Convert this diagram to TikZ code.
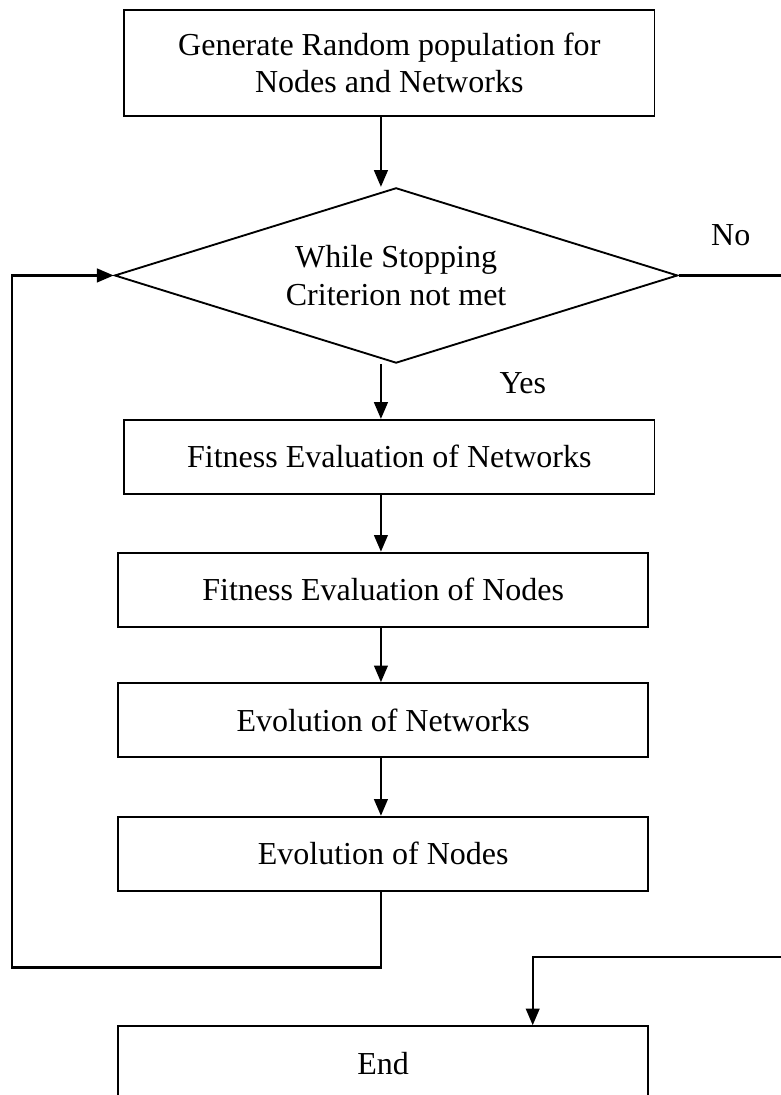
\documentclass[tikz,border=0pt]{standalone}
\usepackage{fontspec}
\setmainfont{Liberation Serif}
\usepackage{tikz}
\usetikzlibrary{positioning,calc,arrows.meta,shapes.geometric}

\begin{document}
\begin{tikzpicture}[
  block/.style={rectangle, draw, line width=0.7pt, minimum width=69.9mm, minimum height=9.75mm, inner sep=0pt, font=\fontsize{12pt}{13.8pt}\selectfont, align=center},
  decision/.style={diamond, draw, line width=0.7pt, aspect=3.2, minimum width=74.2mm, minimum height=23.1mm, inner sep=0pt, font=\fontsize{12pt}{14.5pt}\selectfont, align=center},
  tag/.style={inner sep=0pt, font=\fontsize{12pt}{13.8pt}\selectfont},
  arrow/.style={-{Triangle[length=2.2mm,width=1.8mm]}, line width=0.8pt},
  link/.style={line width=0.8pt}
]
\useasboundingbox (0,0) rectangle (102.9mm,-144.3mm);
\node[block, minimum height=14mm] (start) at (51.3mm,-8.3mm) {Generate Random population for\\Nodes and Networks};
\node[decision] (cond) at (52.2mm,-36.3mm) {While Stopping\\Criterion not met};
\node[block] (evalnet) at (51.3mm,-60.2mm) {Fitness Evaluation of Networks};
\node[block] (evalnode) at (50.5mm,-77.7mm) {Fitness Evaluation of Nodes};
\node[block] (evolnet) at (50.5mm,-94.9mm) {Evolution of Networks};
\node[block] (evolnode) at (50.5mm,-112.5mm) {Evolution of Nodes};
\node[block] (finish) at (50.5mm,-140.1mm) {End};
\node[tag] (yes) at (68.9mm,-50.5mm) {Yes};
\node[tag] (no) at (96.3mm,-31.0mm) {No};
% main line
\coordinate (axis) at (50.2mm,0);
\draw[arrow] (start.south -| axis) -- (cond.north -| axis);
\draw[arrow] (cond.south -| axis) -- (evalnet.north -| axis);
\draw[arrow] (evalnet.south -| axis) -- (evalnode.north -| axis);
\draw[arrow] (evalnode.south -| axis) -- (evolnet.north -| axis);
\draw[arrow] (evolnet.south -| axis) -- (evolnode.north -| axis);
% back to the test
\coordinate (loopfoot) at (1.6mm,-127.5mm);
\draw[arrow] (evolnode.south -| axis) -- (axis |- loopfoot) -- (loopfoot) |- (cond.west);
% leaving on No
\coordinate (noexit) at (102.9mm,0);
\draw[link] (cond.east) -- (cond.east -| noexit);
\coordinate (noentry) at (102.9mm,-126.1mm);
\coordinate (nodrop) at (70.2mm,-126.1mm);
\draw[arrow] (noentry) -- (nodrop) -- (nodrop |- finish.north);
\end{tikzpicture}
\end{document}
